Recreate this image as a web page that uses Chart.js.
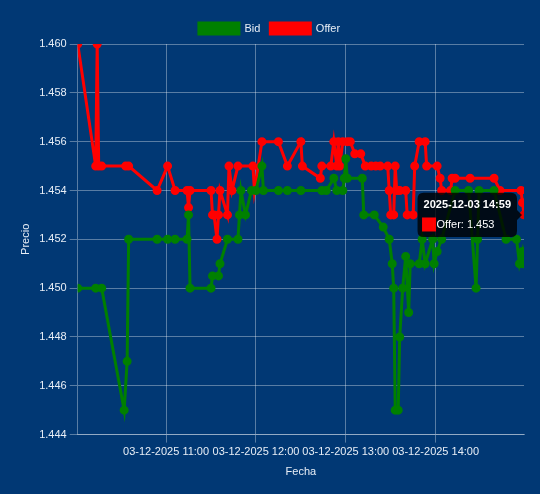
<!DOCTYPE html>
<html>
<head>
<meta charset="utf-8">
<script src="https://cdn.jsdelivr.net/npm/chart.js@4.4.1/dist/chart.umd.min.js"></script>
<style>
  html, body { margin: 0; padding: 0; background: #013874; }
  #wrap { width: 540px; height: 494px; position: relative; }
</style>
</head>
<body>
<div id="wrap"><canvas id="precioChart"></canvas></div>
<script>
// Datos del grafico (hora local, 03-12-2025)
const dia = '03-12-2025';
const diaIso = '2025-12-03';
const tickHoras = ['11:00', '12:00', '13:00', '14:00'];

const bidHoras = ['10:01','10:13','10:17','10:32','10:34','10:35','10:54','11:01','11:06','11:14','11:15','11:16','11:30','11:31','11:35','11:36','11:41','11:48','11:49','11:50','11:53','11:57','12:00','12:04','12:05','12:15','12:21','12:30','12:44','12:47','12:52','12:54','12:58','12:59','13:00','13:01','13:11','13:12','13:19','13:25','13:29','13:31','13:32','13:33','13:35','13:36','13:38','13:40','13:42','13:43','13:49','13:51','13:53','13:58','13:59','14:01','14:04','14:13','14:22','14:27','14:28','14:29','14:39','14:47','14:54','14:56','14:58','14:59'];
const bidPrecios = [1.450,1.450,1.450,1.445,1.447,1.452,1.452,1.452,1.452,1.452,1.453,1.450,1.450,1.4505,1.4505,1.451,1.452,1.452,1.453,1.454,1.453,1.454,1.454,1.455,1.454,1.454,1.454,1.454,1.454,1.454,1.4545,1.454,1.454,1.4545,1.4553,1.4545,1.4545,1.453,1.453,1.4525,1.452,1.451,1.450,1.445,1.445,1.448,1.450,1.4513,1.449,1.451,1.451,1.452,1.451,1.452,1.451,1.4515,1.452,1.454,1.454,1.450,1.452,1.454,1.454,1.452,1.452,1.451,1.4515,1.451];

const offerHoras = ['10:01','10:13','10:14','10:15','10:17','10:33','10:35','10:54','11:01','11:06','11:14','11:15','11:16','11:30','11:31','11:32','11:34','11:35','11:36','11:41','11:42','11:44','11:48','11:58','11:59','12:04','12:15','12:21','12:30','12:31','12:43','12:44','12:50','12:52','12:54','12:55','12:56','12:58','13:01','13:03','13:06','13:10','13:13','13:17','13:20','13:23','13:28','13:29','13:30','13:32','13:33','13:34','13:36','13:40','13:41','13:45','13:46','13:49','13:53','13:54','14:01','14:03','14:04','14:10','14:11','14:13','14:23','14:39','14:43','14:57','14:58','14:59'];
const offerPrecios = [1.460,1.455,1.460,1.455,1.455,1.455,1.455,1.454,1.455,1.454,1.454,1.4533,1.454,1.454,1.453,1.453,1.452,1.453,1.454,1.453,1.455,1.454,1.455,1.455,1.454,1.456,1.456,1.455,1.456,1.455,1.4545,1.455,1.455,1.456,1.455,1.456,1.455,1.456,1.456,1.456,1.4555,1.4555,1.455,1.455,1.455,1.455,1.455,1.454,1.453,1.453,1.455,1.454,1.454,1.454,1.453,1.453,1.455,1.456,1.456,1.455,1.455,1.4545,1.454,1.454,1.4545,1.4545,1.4545,1.4545,1.454,1.454,1.4535,1.453];

// "HH:MM" -> minutos
function aMinutos(h) {
    const p = h.split(':');
    return parseInt(p[0]) * 60 + parseInt(p[1]);
}
function aHora(m) {
    const hh = Math.floor(m / 60), mm = Math.round(m % 60);
    return String(hh).padStart(2, '0') + ':' + String(mm).padStart(2, '0');
}
function puntos(horas, precios) {
    return horas.map((h, i) => ({ x: aMinutos(h), y: precios[i] }));
}

const texto = '#e8eef6';
const rejilla = 'rgba(255,255,255,0.35)';
Chart.defaults.font.family = 'Arial, "Liberation Sans", Helvetica, sans-serif';
Chart.defaults.font.size = 11;
Chart.defaults.color = texto;

const ctx = document.getElementById('precioChart').getContext('2d');
const precioChart = new Chart(ctx, {
    type: 'line',
    data: {
        datasets: [{
            label: 'Bid',
            data: puntos(bidHoras, bidPrecios),
            borderColor: '#008000',
            backgroundColor: '#008000',
            borderWidth: 3,
            pointRadius: 3,
            tension: 0,
            fill: false
        }, {
            label: 'Offer',
            data: puntos(offerHoras, offerPrecios),
            borderColor: '#ff0000',
            backgroundColor: '#ff0000',
            borderWidth: 3,
            pointRadius: 3,
            tension: 0,
            fill: false
        }]
    },
    options: {
        responsive: true,
        maintainAspectRatio: false,
        animation: false,
        layout: { padding: { left: 15, right: 16, top: 13, bottom: 11 } },
        plugins: {
            legend: {
                labels: { color: texto, boxWidth: 40, boxHeight: 11 }
            },
            tooltip: {
                mode: 'nearest',
                intersect: true,
                titleFont: { size: 11, weight: 'bold' },
                bodyFont: { size: 11 },
                callbacks: {
                    title: items => diaIso + ' ' + aHora(items[0].parsed.x),
                    label: item => item.dataset.label + ': ' + item.parsed.y.toFixed(3)
                }
            }
        },
        scales: {
            x: {
                type: 'linear',
                min: aMinutos(offerHoras[0]),
                max: aMinutos(offerHoras[offerHoras.length - 1]),
                afterBuildTicks: axis => {
                    axis.ticks = tickHoras.map(h => ({ value: aMinutos(h) }));
                },
                ticks: {
                    color: texto,
                    autoSkip: false,
                    maxRotation: 0,
                    callback: v => dia + ' ' + aHora(v)
                },
                grid: { color: rejilla },
                border: { color: rejilla },
                title: { display: true, text: 'Fecha', color: texto }
            },
            y: {
                min: 1.444,
                max: 1.460,
                ticks: {
                    color: texto,
                    stepSize: 0.002,
                    callback: v => v.toFixed(3)
                },
                grid: { color: rejilla },
                border: { color: rejilla },
                title: { display: true, text: 'Precio', color: texto }
            }
        }
    }
});

// Tooltip fijo sobre el ultimo Offer
const ultimo = offerHoras.length - 1;
const el = precioChart.getDatasetMeta(1).data[ultimo];
precioChart.setActiveElements([{ datasetIndex: 1, index: ultimo }]);
precioChart.tooltip.setActiveElements([{ datasetIndex: 1, index: ultimo }], { x: el.x, y: el.y });
precioChart.update();
</script>
</body>
</html>
